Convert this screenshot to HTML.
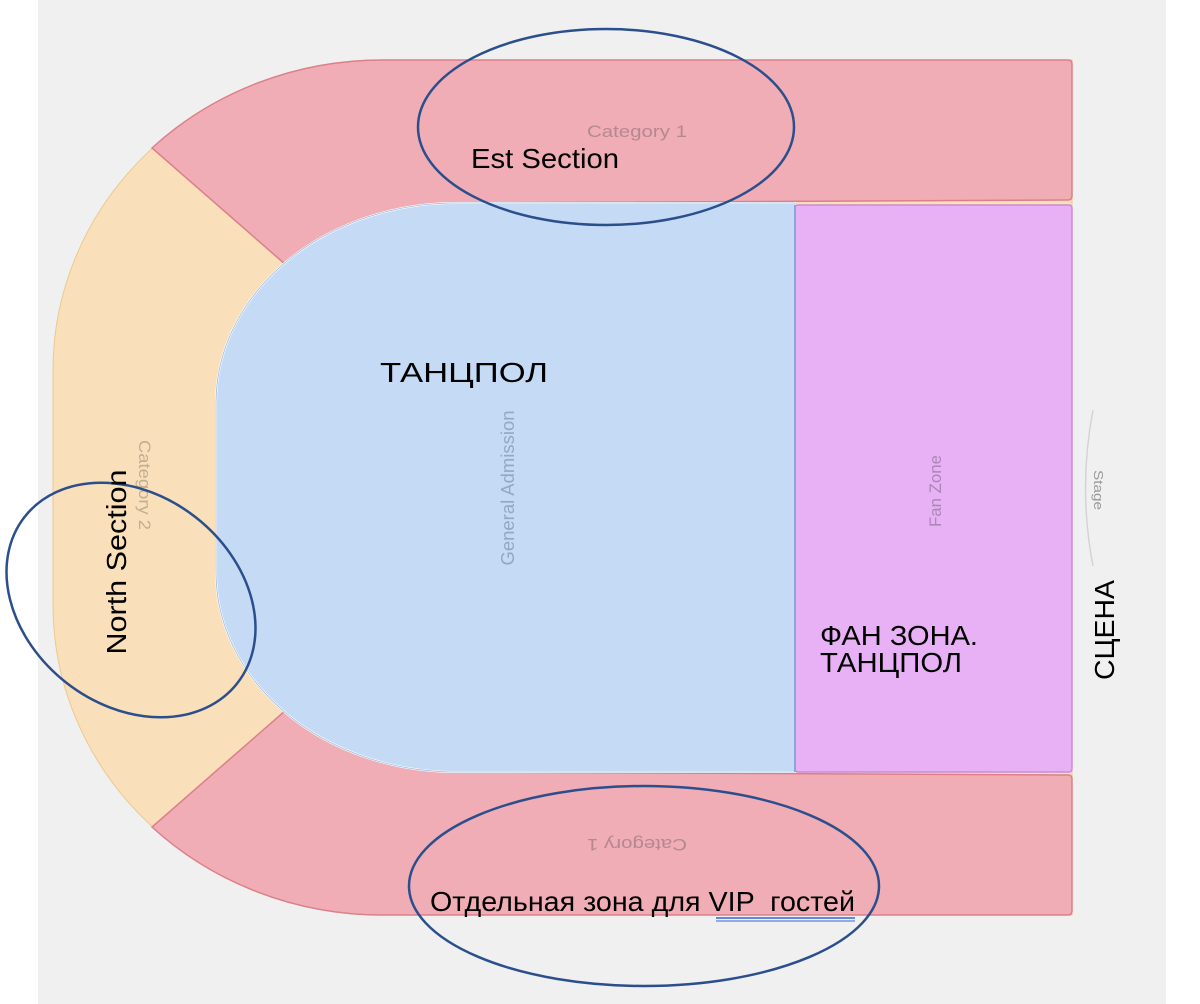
<!DOCTYPE html>
<html><head><meta charset="utf-8"><style>
html,body{margin:0;padding:0;background:#fff;}
svg{display:block;}
</style></head><body>
<svg width="1200" height="1004" viewBox="0 0 1200 1004" xmlns="http://www.w3.org/2000/svg" font-family="Liberation Sans, DejaVu Sans, sans-serif">
<rect x="38" y="0" width="1128" height="1004" fill="#f0f0f0"/>
<path d="M383 60 L1072 60 L1072 915 L383 915 A330 310 0 0 1 53 605 L53 370 A330 310 0 0 1 383 60 Z" fill="#f9e0ba" stroke="#ecc98e" stroke-width="1"/>
<path d="M152 148 A330 310 0 0 1 383 60 L1068 60 Q1072 60 1072 64 L1072 196 Q1072 200 1068 200 L456 203 A240 200 0 0 0 286 265 Z" fill="#f0adb5" stroke="#dc7f88" stroke-width="1.5"/>
<path d="M152 827 A330 310 0 0 0 383 915 L1068 915 Q1072 915 1072 911 L1072 779 Q1072 775 1068 775 L456 772 A240 200 0 0 1 286 710 Z" fill="#f0adb5" stroke="#dc7f88" stroke-width="1.5"/>
<path d="M456 203 L795 203 L795 772 L456 772 A240 200 0 0 1 216 572 L216 403 A240 200 0 0 1 456 203 Z" fill="#c5daf4" stroke="#fff" stroke-width="2"/>
<path d="M456 203 L795 203 L795 772 L456 772 A240 200 0 0 1 216 572 L216 403 A240 200 0 0 1 456 203 Z" fill="none" stroke="#9fb8d8" stroke-width="0.8"/>
<rect x="795" y="205" width="277" height="567" rx="3" fill="#e8b0f5" stroke="#c98ad8" stroke-width="1.5"/>
<line x1="795" y1="205" x2="795" y2="772" stroke="#8da6d8" stroke-width="2"/>
<path d="M1093 410 Q1078 488 1093 566" fill="none" stroke="#d4d4d4" stroke-width="1.5"/>
<text transform="translate(1094,490) rotate(90)" font-size="13" fill="#999" text-anchor="middle" textLength="40" lengthAdjust="spacingAndGlyphs">Stage</text>
<text x="637" y="137" font-size="17" fill="#b58890" text-anchor="middle" textLength="100" lengthAdjust="spacingAndGlyphs">Category 1</text>
<text transform="translate(637,839) rotate(180)" font-size="17" fill="#b58890" text-anchor="middle" textLength="100" lengthAdjust="spacingAndGlyphs">Category 1</text>
<text transform="translate(139,485) rotate(90)" font-size="17" fill="#c2ae90" text-anchor="middle" textLength="90" lengthAdjust="spacingAndGlyphs">Category 2</text>
<text transform="translate(514,488) rotate(-90)" font-size="18" fill="#95a8c2" text-anchor="middle" textLength="155" lengthAdjust="spacingAndGlyphs">General Admission</text>
<text transform="translate(941,491) rotate(-90)" font-size="17" fill="#aa88b5" text-anchor="middle" textLength="72" lengthAdjust="spacingAndGlyphs">Fan Zone</text>
<ellipse cx="606" cy="127" rx="188" ry="98" fill="none" stroke="#2b4e8c" stroke-width="2.5"/>
<ellipse cx="644" cy="886" rx="235" ry="100" fill="none" stroke="#2b4e8c" stroke-width="2.5"/>
<ellipse cx="0" cy="0" rx="135" ry="105" transform="translate(131,600) rotate(38)" fill="none" stroke="#2b4e8c" stroke-width="2.5"/>
<g fill="#000" font-size="28">
<text x="471" y="168" textLength="148" lengthAdjust="spacingAndGlyphs">Est Section</text>
<text x="380" y="382" textLength="168" lengthAdjust="spacingAndGlyphs">ТАНЦПОЛ</text>
<text x="820" y="645" textLength="158" lengthAdjust="spacingAndGlyphs">ФАН ЗОНА.</text>
<text x="820" y="672" textLength="142" lengthAdjust="spacingAndGlyphs">ТАНЦПОЛ</text>
<text transform="translate(1114,630) rotate(-90)" text-anchor="middle" textLength="100" lengthAdjust="spacingAndGlyphs">СЦЕНА</text>
<text transform="translate(126,562) rotate(-90)" text-anchor="middle" textLength="185" lengthAdjust="spacingAndGlyphs">North Section</text>
<text x="430" y="911" textLength="425" lengthAdjust="spacingAndGlyphs" xml:space="preserve">Отдельная зона для VIP  гостей</text>
</g>
<line x1="716" y1="918" x2="855" y2="918" stroke="#3566d4" stroke-width="1.5"/>
<line x1="716" y1="921" x2="855" y2="921" stroke="#3566d4" stroke-width="1"/>
</svg>
</body></html>
